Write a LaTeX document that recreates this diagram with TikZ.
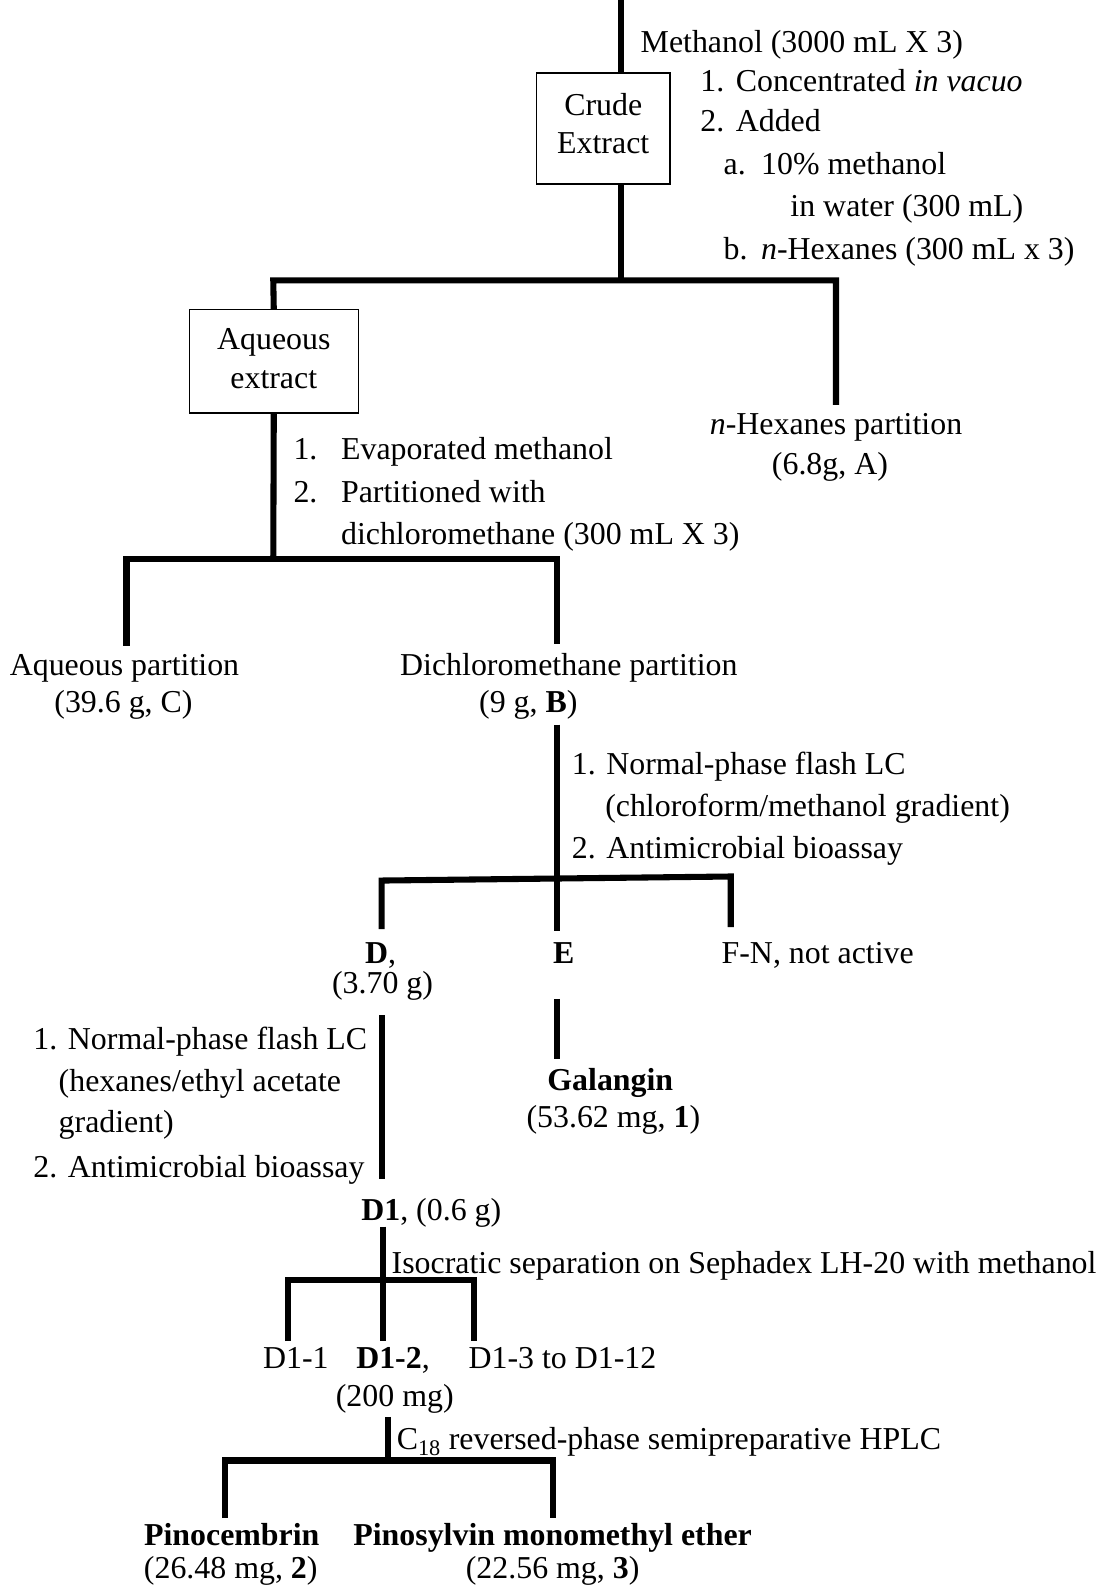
\documentclass[tikz,border=0pt]{standalone}
\usepackage{fontspec}
\setmainfont{Liberation Serif}
\begin{document}
\begin{tikzpicture}[x=1pt,y=-1pt,
  every node/.style={font=\fontsize{31.5}{41}\selectfont, inner sep=0pt, outer sep=0pt},
  txt/.style={anchor=base west},
  ctxt/.style={anchor=base},
  boxnode/.style={draw, line width=1.5pt, align=center, inner sep=0pt},
  bar/.style={line width=6pt, line join=miter},
]
\useasboundingbox (0,0) rectangle (1091,1568);

% ---------- boxes ----------
\node[boxnode, minimum width=132pt, minimum height=110pt, text depth=10pt,
      font=\fontsize{31.5}{37}\selectfont] (crude) at (596,127) {Crude\\Extract};
\node[boxnode, minimum width=167pt, minimum height=102pt, text depth=6pt,
      font=\fontsize{31.5}{39}\selectfont] (aq) at (270.5,357) {Aqueous\\extract};

% ---------- top section texts ----------
\node[txt] (meth) at (633,52) {Methanol (3000 mL X 3)};
\node[txt] (s1n) at (692,90) {1.};
\node[txt] (s1t) at (727,90) {Concentrated \textit{in vacuo}};
\node[txt] (s2n) at (692,130) {2.};
\node[txt] (s2t) at (727,130) {Added};
\node[txt] (sa) at (715,172) {a.};
\node[txt] (sat) at (752,172) {10\% methanol};
\node[txt] (sat2) at (781,214) {in water (300 mL)};
\node[txt] (sb) at (715,256) {b.};
\node[txt] (sbt) at (752,256) {\textit{n}-Hexanes (300 mL x 3)};

\node[ctxt] (hex) at (826,429) {\textit{n}-Hexanes partition};
\node[ctxt] (hex2) at (820,469) {(6.8g, A)};

% ---------- aqueous extract steps ----------
\node[txt] (e1n) at (290,454) {1.};
\node[txt] (e1t) at (337,454) {Evaporated methanol};
\node[txt] (e2n) at (290,496) {2.};
\node[txt] (e2t) at (337,496) {Partitioned with};
\node[txt] (e3t) at (337,538) {dichloromethane (300 mL X 3)};

\node[ctxt] (aqp) at (123,667) {Aqueous partition};
\node[ctxt] (aqp2) at (122,704) {(39.6 g, C)};
\node[ctxt] (dcm) at (562,667) {Dichloromethane partition};
\node[ctxt] (dcm2) at (522,704) {(9 g, \textbf{B})};

% ---------- B steps ----------
\node[txt] (b1) at (565,765) {1. Normal-phase flash LC};
\node[txt] (b1b) at (598,807) {(chloroform/methanol gradient)};
\node[txt] (b2) at (565,848) {2. Antimicrobial bioassay};

\node[ctxt] (D) at (376,952) {\textbf{D},};
\node[ctxt] (D2) at (378,982) {(3.70 g)};
\node[ctxt] (E) at (557,952) {\textbf{E}};
\node[txt] (FN) at (713,952) {F-N, not active};

\node[ctxt] (gal) at (603,1077) {\textbf{Galangin}};
\node[ctxt] (gal2) at (606,1114) {(53.62 mg, \textbf{1})};

% ---------- D steps ----------
\node[txt] (d1) at (33,1037) {1. Normal-phase flash LC};
\node[txt] (d1b) at (58,1078) {(hexanes/ethyl acetate};
\node[txt] (d1c) at (58,1119) {gradient)};
\node[txt] (d2) at (33,1163) {2. Antimicrobial bioassay};

\node[txt] (D1) at (357,1206) {\textbf{D1}, (0.6 g)};
\node[txt] (iso) at (387,1258) {Isocratic separation on Sephadex LH-20 with methanol};

\node[txt] (D11) at (260,1352) {D1-1};
\node[txt] (D12) at (352,1352) {\textbf{D1-2},};
\node[txt] (D13) at (463,1352) {D1-3 to D1-12};
\node[ctxt] (D12b) at (390,1390) {(200 mg)};

\node[txt] (c18) at (392,1432) {C\textsubscript{18} reversed-phase semipreparative HPLC};

\node[ctxt] (pc) at (229,1527) {\textbf{Pinocembrin}};
\node[ctxt] (pc2) at (228,1560) {(26.48 mg, \textbf{2})};
\node[ctxt] (ps) at (546,1527) {\textbf{Pinosylvin monomethyl ether}};
\node[ctxt] (ps2) at (546,1560) {(22.56 mg, \textbf{3})};

% ---------- coordinates for connector ends ----------
\coordinate (top) at (614,0);
\coordinate (j1) at (614,277);
\coordinate (j1l) at (270,277);
\coordinate (j1r) at (826,277);
\coordinate (hexend) at (826,400);
\coordinate (j2) at (270,552);
\coordinate (j2l) at (125,552);
\coordinate (j2r) at (550,552);
\coordinate (aqpend) at (125,638);
\coordinate (dcmend) at (550,636);
\coordinate (bstart) at (550,716);
\coordinate (j3) at (550,868);
\coordinate (j3l) at (377,870);
\coordinate (j3r) at (722,866);
\coordinate (Dend) at (377,918);
\coordinate (Eend) at (550,920);
\coordinate (FNend) at (722,916);
\coordinate (Estart) at (550,987);
\coordinate (galend) at (550,1046);
\coordinate (Dstart) at (377,1003);
\coordinate (D1end) at (377,1165);
\coordinate (D1start) at (378,1212);
\coordinate (j4) at (378,1265);
\coordinate (j4l) at (285,1265);
\coordinate (j4r) at (468,1265);
\coordinate (D11end) at (285,1325);
\coordinate (D12end) at (378,1325);
\coordinate (D13end) at (468,1325);
\coordinate (D12start) at (383,1400);
\coordinate (j5) at (383,1443);
\coordinate (j5l) at (222,1443);
\coordinate (j5r) at (546,1443);
\coordinate (pcend) at (222,1500);
\coordinate (psend) at (546,1500);

% ---------- connectors ----------
\draw[bar] (top) -- (crude.north -| top);
\draw[bar] (crude.south -| j1) -- (j1);
\draw[bar] (aq.north) -- (j1l) -- (j1r) -- (hexend);
\draw[bar] (aq.south) -- (j2);
\draw[bar] (aqpend) -- (j2l) -- (j2r) -- (dcmend);
\draw[bar] (bstart) -- (j3);
\draw[bar] (Dend) -- (j3l) -- (j3r) -- (FNend);
\draw[bar] (j3) -- (Eend);
\draw[bar] (Estart) -- (galend);
\draw[bar] (Dstart) -- (D1end);
\draw[bar] (D1start) -- (j4);
\draw[bar] (D11end) -- (j4l) -- (j4r) -- (D13end);
\draw[bar] (j4) -- (D12end);
\draw[bar] (D12start) -- (j5);
\draw[bar] (pcend) -- (j5l) -- (j5r) -- (psend);
\end{tikzpicture}
\end{document}
